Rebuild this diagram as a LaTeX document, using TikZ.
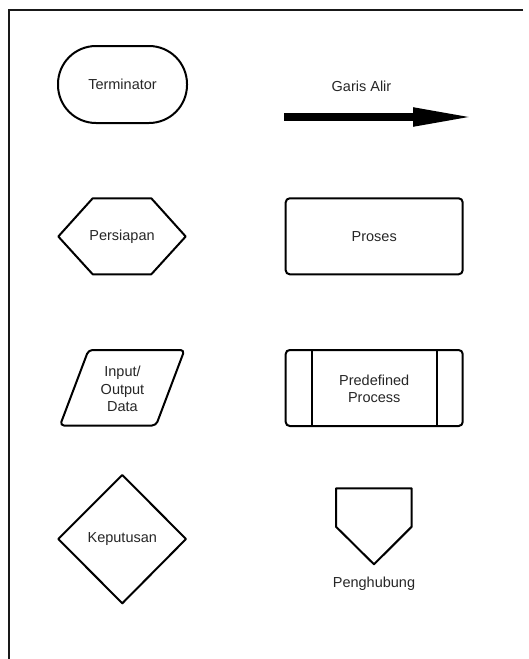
\documentclass[tikz,border=0pt]{standalone}
\usepackage{fontspec}
\setmainfont{Liberation Sans}
\usetikzlibrary{arrows.meta}
\begin{document}
\begin{tikzpicture}[x=1pt,y=-1pt,
  symbol/.style={draw=black, line width=2pt, line join=round},
  label/.style={text=black!85, font=\fontsize{14.5}{17.5}\selectfont, align=center, inner sep=0pt},
  frame/.style={draw=black!90, line width=2pt}]
\useasboundingbox (0,0) rectangle (529,659);

% page frame (top and left edges)
\draw[frame] (523,9.5) -- (8.5,9.5) -- (8.5,659);

% terminator
\draw[symbol, rounded corners=38pt] (58,46) rectangle (187,123);
\node[label] (terminator) at (122.5,84.5) {Terminator};

% flow line
\coordinate (flowA) at (284,117);
\coordinate (flowB) at (475,117);
\draw[line width=8pt, -{Triangle[length=62pt,width=17pt]}] (flowA) -- (flowB);
\node[label] (garis) at (361.5,86) {Garis Alir};

% preparation (hexagon)
\draw[symbol] (58.3,236.5) -- (92.7,198.3) -- (151.3,198.3) -- (185.7,236.5)
  -- (151.3,274.3) -- (92.7,274.3) -- cycle;
\node[label] (persiapan) at (122,236.5) {Persiapan};

% process
\draw[symbol, rounded corners=4pt] (285.7,198.3) rectangle (462.7,274.3);
\node[label] (proses) at (374.2,236.5) {Proses};

% input/output (parallelogram)
\draw[symbol, rounded corners=4pt] (60,425.5) -- (156,425.5) -- (184.5,350) -- (88.5,350) -- cycle;
\node[label] (io) at (122.5,389) {Input/\\Output\\Data};

% predefined process
\draw[symbol, rounded corners=4pt] (285.7,350) rectangle (462.7,426);
\draw[symbol] (311.7,350) -- (311.7,426);
\draw[symbol] (437.3,350) -- (437.3,426);
\node[label] (predef) at (374.2,389) {Predefined\\Process};

% decision (diamond)
\draw[symbol] (122.3,475) -- (186,539) -- (122.3,603.3) -- (58.3,539) -- cycle;
\node[label] (keputusan) at (122.3,539) {Keputusan};

% off-page connector
\draw[symbol] (336,488.3) -- (411.7,488.3) -- (411.7,526.7) -- (374,564.3)
  -- (336,526.7) -- cycle;
\node[label] (penghubung) at (374,583.5) {Penghubung};
\end{tikzpicture}
\end{document}
